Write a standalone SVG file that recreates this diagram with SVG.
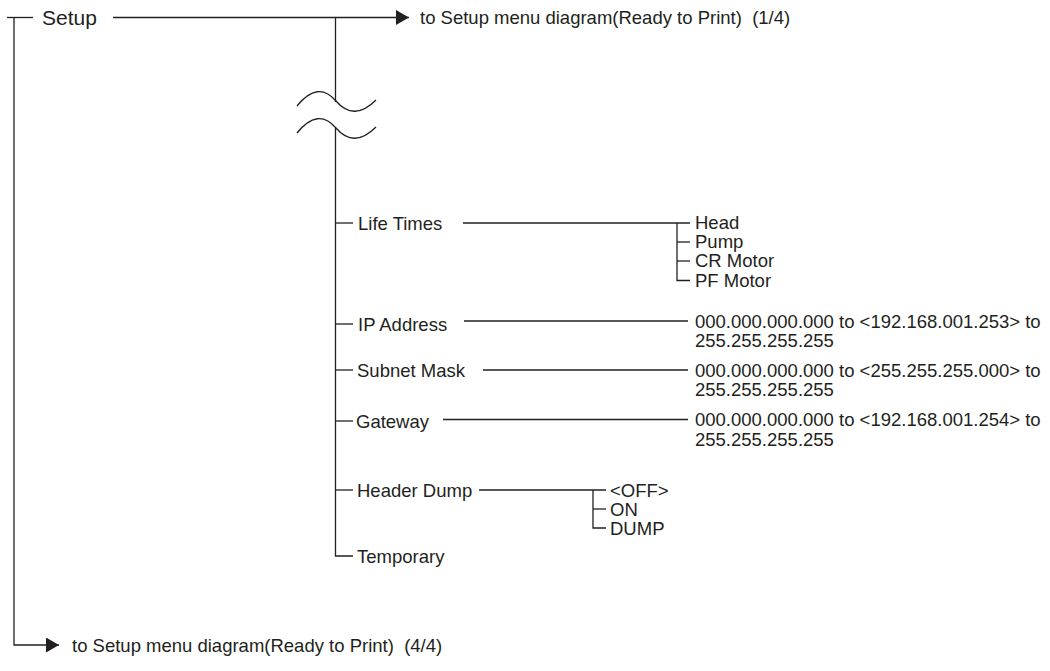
<svg xmlns="http://www.w3.org/2000/svg" width="1050" height="671" viewBox="0 0 1050 671">
<defs>
<marker id="arr" markerUnits="userSpaceOnUse" markerWidth="14" markerHeight="16" refX="13" refY="7.5" orient="auto">
<path d="M0,0 L13,7.5 L0,15 z" fill="#231f20"/>
</marker>
<style>
.ln{fill:none;stroke:#231f20;stroke-width:1.3}
.t{font-family:"Liberation Sans",Arial,sans-serif;font-size:18.5px;fill:#231f20;white-space:pre}
.big{font-size:21px}
</style>
</defs>
<rect width="1050" height="671" fill="#fff"/>
<g id="connectors">
<path class="ln" d="M7,17.5 H33"/>
<path class="ln" d="M14,17.5 V645 H59" marker-end="url(#arr)"/>
<path class="ln" d="M113,17.5 H409" marker-end="url(#arr)"/>
<path class="ln" d="M335.5,17.5 V102"/>
<path class="ln" d="M297,106 Q318,80 336,101 Q354,122 376,100"/>
<path class="ln" d="M297,133 Q318,107 336,128 Q354,149 376,127"/>
<path class="ln" d="M335.5,128 V556 H353"/>
<path class="ln" d="M335.5,223 H353"/>
<path class="ln" d="M335.5,324 H353"/>
<path class="ln" d="M335.5,370 H353"/>
<path class="ln" d="M335.5,421 H353"/>
<path class="ln" d="M335.5,490 H353"/>
<path class="ln" d="M463,223 H690"/>
<path class="ln" d="M677,223 V280.5 H690"/>
<path class="ln" d="M677,242 H690"/>
<path class="ln" d="M677,261 H690"/>
<path class="ln" d="M464,321 H688"/>
<path class="ln" d="M483,370 H688"/>
<path class="ln" d="M443,419.5 H688"/>
<path class="ln" d="M479,490 H606"/>
<path class="ln" d="M593,490 V528 H606"/>
<path class="ln" d="M593,509 H606"/>
</g>
<g id="setup"><text class="t big" x="42" y="25">Setup</text></g>
<g id="to-1-4"><text class="t" x="420" y="24" xml:space="preserve">to Setup menu diagram(Ready to Print)  (1/4)</text></g>
<g id="to-4-4"><text class="t" x="72" y="652" xml:space="preserve">to Setup menu diagram(Ready to Print)  (4/4)</text></g>
<g id="life-times"><text class="t" x="358" y="230">Life Times</text></g>
<g id="head"><text class="t" x="695" y="229">Head</text></g>
<g id="pump"><text class="t" x="695" y="248">Pump</text></g>
<g id="cr-motor"><text class="t" x="695" y="267">CR Motor</text></g>
<g id="pf-motor"><text class="t" x="695" y="287">PF Motor</text></g>
<g id="ip-address"><text class="t" x="358" y="331">IP Address</text></g>
<g id="ip-value"><text class="t" x="695" y="327.5">000.000.000.000 to &lt;192.168.001.253&gt; to</text><text class="t" x="695" y="347">255.255.255.255</text></g>
<g id="subnet-mask"><text class="t" x="357" y="377">Subnet Mask</text></g>
<g id="subnet-value"><text class="t" x="695" y="376.5">000.000.000.000 to &lt;255.255.255.000&gt; to</text><text class="t" x="695" y="396">255.255.255.255</text></g>
<g id="gateway"><text class="t" x="356" y="428">Gateway</text></g>
<g id="gateway-value"><text class="t" x="695" y="426">000.000.000.000 to &lt;192.168.001.254&gt; to</text><text class="t" x="695" y="445.5">255.255.255.255</text></g>
<g id="header-dump"><text class="t" x="357" y="497">Header Dump</text></g>
<g id="off"><text class="t" x="610" y="497">&lt;OFF&gt;</text></g>
<g id="on"><text class="t" x="610" y="516">ON</text></g>
<g id="dump"><text class="t" x="610" y="535">DUMP</text></g>
<g id="temporary"><text class="t" x="357" y="563">Temporary</text></g>
</svg>
